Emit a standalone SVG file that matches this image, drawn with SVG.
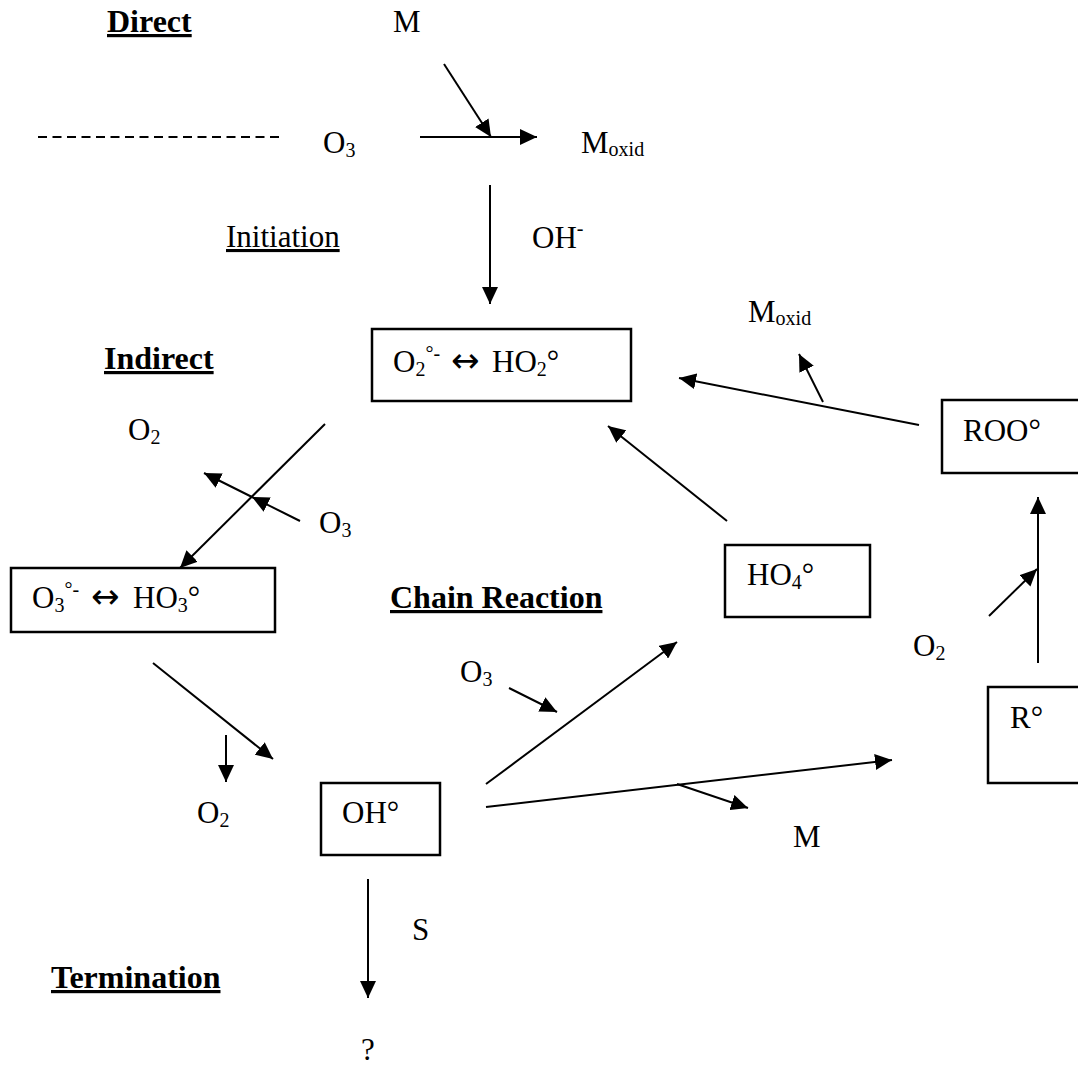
<svg xmlns="http://www.w3.org/2000/svg" width="1078" height="1065" viewBox="0 0 1078 1065">
<style>
text{font-family:"Liberation Serif","Times New Roman",serif;font-size:31px;fill:#000}
.b{font-weight:bold;font-size:32px;text-decoration:underline}
.u{text-decoration:underline}
.sub{font-size:20px}
.sup{font-size:20px}
.arr{font-family:"DejaVu Sans",sans-serif;font-size:34px}
rect{fill:none;stroke:#000;stroke-width:2.5}
.c line,.c path{stroke:#000;stroke-width:2;fill:none;marker-end:url(#ah)}
.c .mid{marker-mid:url(#ah)}
.c .dash{stroke-dasharray:9 5.5;marker-end:none}
</style>
<defs>
<marker id="ah" viewBox="0 0 17 16" refX="17" refY="8" markerWidth="17" markerHeight="16" markerUnits="userSpaceOnUse" orient="auto">
<path d="M0,0 L17,8 L0,16 z" fill="#000"/>
</marker>
</defs>
<g id="connectors" class="c">
<line class="dash" x1="38" y1="137" x2="280" y2="137"/>
<line x1="420" y1="137" x2="537" y2="137"/>
<line x1="444" y1="64" x2="491" y2="137"/>
<line x1="490" y1="185" x2="490" y2="304"/>
<line x1="325" y1="424" x2="180" y2="568"/>
<path class="mid" d="M300,521 L252,497 L204,473"/>
<line x1="919" y1="425" x2="679" y2="378"/>
<line x1="823" y1="402" x2="799" y2="354"/>
<line x1="727" y1="521" x2="608" y2="426"/>
<line x1="1038" y1="663" x2="1038" y2="497"/>
<line x1="989" y1="616" x2="1037" y2="569"/>
<line x1="153" y1="663" x2="273" y2="759"/>
<line x1="226" y1="735" x2="226" y2="782"/>
<line x1="486" y1="784" x2="677" y2="642"/>
<line x1="486" y1="807" x2="892" y2="760"/>
<line x1="677" y1="784" x2="748" y2="808"/>
<line x1="509" y1="688" x2="557" y2="712"/>
<line x1="368" y1="879" x2="368" y2="998"/>
</g>
<g id="label-direct"><text class="b" x="107" y="32">Direct</text></g>
<g id="label-m-top"><text x="393" y="32">M</text></g>
<g id="label-o3-top"><text x="323" y="153">O<tspan class="sub" dy="4">3</tspan></text></g>
<g id="label-moxid-top"><text x="581" y="153">M<tspan class="sub" dy="3">oxid</tspan></text></g>
<g id="label-initiation"><text class="u" x="226" y="247">Initiation</text></g>
<g id="label-oh-minus"><text x="532" y="248">OH<tspan class="sup" dy="-13">-</tspan></text></g>
<g id="label-moxid-right"><text x="748" y="322">M<tspan class="sub" dy="3">oxid</tspan></text></g>
<g id="label-indirect"><text class="b" x="104" y="369">Indirect</text></g>
<g id="node-o2-ho2">
<rect x="372" y="329" width="259" height="72"/>
<text x="393" y="372">O<tspan class="sub" dy="4">2</tspan><tspan class="sup" dy="-16">°-</tspan><tspan class="arr" x="451" dy="12">↔</tspan><tspan x="492">HO</tspan><tspan class="sub" dy="4">2</tspan><tspan dy="-4">°</tspan></text>
</g>
<g id="label-o2-left"><text x="128" y="440">O<tspan class="sub" dy="4">2</tspan></text></g>
<g id="label-o3-mid"><text x="319" y="533">O<tspan class="sub" dy="4">3</tspan></text></g>
<g id="node-roo">
<rect x="942" y="400" width="150" height="73"/>
<text x="963" y="441">ROO°</text>
</g>
<g id="node-ho4">
<rect x="725" y="545" width="145" height="72"/>
<text x="747" y="585">HO<tspan class="sub" dy="4">4</tspan><tspan dy="-4">°</tspan></text>
</g>
<g id="node-o3-ho3">
<rect x="11" y="568" width="264" height="64"/>
<text x="32" y="608">O<tspan class="sub" dy="4">3</tspan><tspan class="sup" dy="-16">°-</tspan><tspan class="arr" x="91" dy="12">↔</tspan><tspan x="133">HO</tspan><tspan class="sub" dy="4">3</tspan><tspan dy="-4">°</tspan></text>
</g>
<g id="label-chain"><text class="b" x="390" y="608">Chain Reaction</text></g>
<g id="label-o2-right"><text x="913" y="656">O<tspan class="sub" dy="4">2</tspan></text></g>
<g id="label-o3-chain"><text x="460" y="682">O<tspan class="sub" dy="4">3</tspan></text></g>
<g id="node-r">
<rect x="988" y="687" width="104" height="96"/>
<text x="1010" y="728">R°</text>
</g>
<g id="label-o2-bottom"><text x="197" y="823">O<tspan class="sub" dy="4">2</tspan></text></g>
<g id="node-oh">
<rect x="321" y="783" width="119" height="72"/>
<text x="342" y="823">OH°</text>
</g>
<g id="label-m-bottom"><text x="793" y="847">M</text></g>
<g id="label-s"><text x="412" y="940">S</text></g>
<g id="label-termination"><text class="b" x="51" y="988">Termination</text></g>
<g id="label-q"><text x="361" y="1060">?</text></g>
</svg>
